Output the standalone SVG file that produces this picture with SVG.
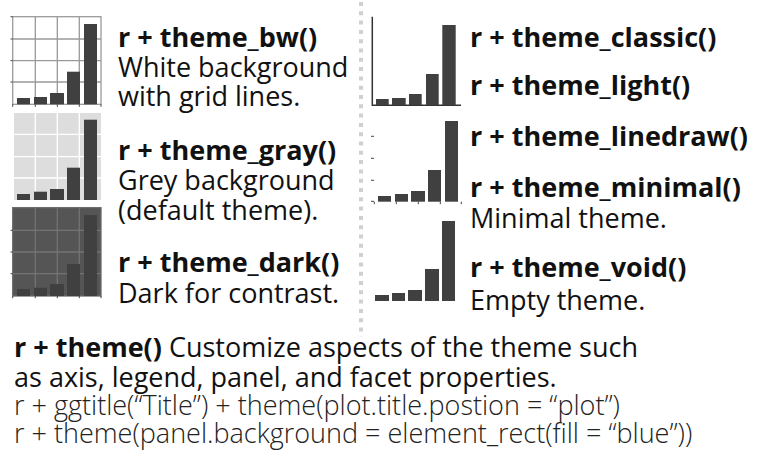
<svg xmlns="http://www.w3.org/2000/svg" width="758" height="470" viewBox="0 0 758 470">
<style>
.bar{fill:#404040}
.t{font-family:"Open Sans","Noto Sans",sans-serif;font-size:27px;fill:#111}
.b{font-weight:700}
.code{font-family:"Open Sans","Noto Sans",sans-serif;font-size:27px;font-weight:300;fill:#222}
.gbw{stroke:#9a9a9a;stroke-width:1.3;fill:none}
.gw{stroke:#fff;stroke-width:1.3;fill:none}
.gd{stroke:#737373;stroke-width:1.3;fill:none}
.ax{stroke:#333;stroke-width:1.5;fill:none}
.tk{stroke:#444;stroke-width:1;fill:none}
</style>
<rect width="758" height="470" fill="#fff"/>
<g id="divider">
<line x1="361" y1="2" x2="361" y2="337" stroke="#d0d0d0" stroke-width="4" stroke-dasharray="4 5.3"/>
</g>
<g id="panel-bw">
<rect x="12.7" y="16.7" width="88.3" height="87.6" fill="#fff"/>
<path class="gbw" d="M35.3 16.7V104.3M57.3 16.7V104.3M79.3 16.7V104.3M12.7 39H101M12.7 60.7H101M12.7 82H101"/>
<rect class="gbw" x="12.7" y="16.7" width="88.3" height="87.6"/>
<path class="tk" d="M12.7 104.3v2.5M35.3 104.3v2.5M57.3 104.3v2.5M79.3 104.3v2.5M101 104.3v2.5M10.5 16.7h2.2M10.5 39h2.2M10.5 60.7h2.2M10.5 82h2.2" stroke="#999"/>
<rect class="bar" x="17" y="98" width="13" height="6.3"/>
<rect class="bar" x="34" y="97" width="13" height="7.3"/>
<rect class="bar" x="50" y="93" width="14" height="11.3"/>
<rect class="bar" x="67" y="71.7" width="13" height="32.6"/>
<rect class="bar" x="84" y="24" width="13" height="80.3"/>
</g>
<g id="panel-gray">
<rect x="14" y="113" width="87" height="87" fill="#dddddd"/>
<path class="gw" d="M35.3 113V200M57.3 113V200M79.3 113V200M14 134.3H101M14 156.7H101M14 178H101"/>
<rect class="bar" x="17" y="194" width="13" height="6"/>
<rect class="bar" x="34" y="191.7" width="13" height="8.3"/>
<rect class="bar" x="50" y="189" width="14" height="11"/>
<rect class="bar" x="67" y="167.7" width="13" height="32.3"/>
<rect class="bar" x="84" y="119.7" width="13" height="80.3"/>
</g>
<g id="panel-dark">
<rect x="12.7" y="207.7" width="88.3" height="88.3" fill="#555555"/>
<path class="gd" d="M35.3 207.7V296M57.3 207.7V296M79.3 207.7V296M12.7 230.3H101M12.7 252H101M12.7 273.7H101"/>
<rect x="12.7" y="207.7" width="88.3" height="88.3" fill="none" stroke="#6a6a6a" stroke-width="1.3"/>
<path class="tk" d="M10.5 230.3h2.2M10.5 252h2.2M10.5 273.7h2.2M12.7 296v2.2M35.3 296v2.2M57.3 296v2.2M79.3 296v2.2M101 296v2.2" stroke="#777"/>
<rect class="bar" x="17" y="289" width="13" height="7"/>
<rect class="bar" x="34" y="287.7" width="13" height="8.3"/>
<rect class="bar" x="50" y="284" width="14" height="12"/>
<rect class="bar" x="67" y="264" width="13" height="32"/>
<rect class="bar" x="84" y="215" width="13" height="81"/>
</g>
<g id="panel-classic">
<path class="ax" d="M372.3 16.7V105.3H461"/>
<rect class="bar" x="376" y="99" width="12.7" height="6"/>
<rect class="bar" x="392" y="98" width="13.7" height="7"/>
<rect class="bar" x="409" y="94" width="12.7" height="11"/>
<rect class="bar" x="426" y="74" width="12.7" height="31"/>
<rect class="bar" x="442.3" y="25" width="13.4" height="80"/>
</g>
<g id="panel-minimal">
<path class="tk" d="M371 136.3h3M371 158.3h3M371 180.3h3M371 201.3h3M374.3 201.7v2.5M396.3 201.7v2.5M418.3 201.7v2.5M440.3 201.7v2.5M461.3 201.7v2.5" stroke="#333"/>
<rect class="bar" x="378" y="196" width="13" height="5.7"/>
<rect class="bar" x="395" y="194" width="13" height="7.7"/>
<rect class="bar" x="411" y="191" width="14" height="10.7"/>
<rect class="bar" x="428" y="170" width="13" height="31.7"/>
<rect class="bar" x="445" y="121" width="13" height="80.7"/>
</g>
<g id="panel-void">
<rect class="bar" x="375" y="295" width="14" height="6"/>
<rect class="bar" x="392" y="293" width="13" height="8"/>
<rect class="bar" x="408" y="290" width="14" height="11"/>
<rect class="bar" x="425" y="269" width="14" height="32"/>
<rect class="bar" x="442" y="221" width="13" height="80"/>
</g>
<g id="labels-left">
<text class="t b" x="118" y="47">r + theme_bw()</text>
<text class="t" x="118" y="77">White background</text>
<text class="t" x="118" y="106">with grid lines.</text>
<text class="t b" x="118" y="160">r + theme_gray()</text>
<text class="t" x="118" y="190">Grey background</text>
<text class="t" x="118" y="220">(default theme).</text>
<text class="t b" x="118" y="272">r + theme_dark()</text>
<text class="t" x="118" y="303">Dark for contrast.</text>
</g>
<g id="labels-right">
<text class="t b" x="470" y="47">r + theme_classic()</text>
<text class="t b" x="470" y="95">r + theme_light()</text>
<text class="t b" x="470" y="146">r + theme_linedraw()</text>
<text class="t b" x="470" y="197">r + theme_minimal()</text>
<text class="t" x="470" y="228">Minimal theme.</text>
<text class="t b" x="470" y="277">r + theme_void()</text>
<text class="t" x="470" y="310">Empty theme.</text>
</g>
<g id="footer">
<text class="t" x="14" y="357"><tspan font-weight="700">r + theme()</tspan> Customize aspects of the theme such</text>
<text class="t" x="14" y="387">as axis, legend, panel, and facet properties.</text>
<text class="code" x="14" y="415">r + ggtitle(“Title”) + theme(plot.title.postion = “plot”)</text>
<text class="code" x="14" y="443">r + theme(panel.background = element_rect(fill = “blue”))</text>
</g>
</svg>
